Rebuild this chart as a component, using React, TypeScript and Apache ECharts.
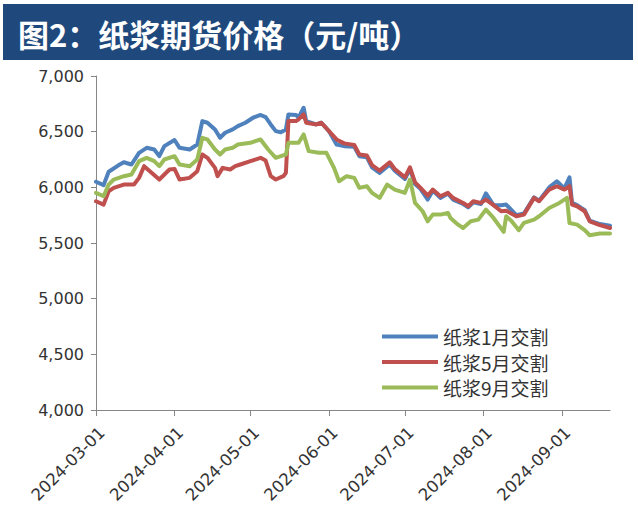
import React, { useEffect, useRef } from "react";
import * as echarts from "echarts";

const TITLE = "图2：纸浆期货价格（元/吨）";
const SERIES_NAMES = ["纸浆1月交割", "纸浆5月交割", "纸浆9月交割"];
const MONTH_TICKS = ["2024-03-01", "2024-04-01", "2024-05-01", "2024-06-01", "2024-07-01", "2024-08-01", "2024-09-01"];
const START_DATE = "2024-03-01";
const END_DATE = "2024-09-20";
const Y_TICKS = [4000, 4500, 5000, 5500, 6000, 6500, 7000];

const pulpJan: [string, number][] = [
  ["2024-03-01", 6050], ["2024-03-04", 6020], ["2024-03-06", 6140], ["2024-03-10", 6200], ["2024-03-12", 6225],
  ["2024-03-15", 6205], ["2024-03-18", 6310], ["2024-03-21", 6355], ["2024-03-24", 6340], ["2024-03-26", 6280],
  ["2024-03-28", 6370], ["2024-04-01", 6425], ["2024-04-03", 6355], ["2024-04-07", 6340], ["2024-04-10", 6385],
  ["2024-04-12", 6595], ["2024-04-14", 6580], ["2024-04-17", 6520], ["2024-04-19", 6445], ["2024-04-21", 6490],
  ["2024-04-24", 6520], ["2024-04-26", 6550], ["2024-04-29", 6580], ["2024-05-02", 6625], ["2024-05-05", 6650],
  ["2024-05-07", 6630], ["2024-05-09", 6565], ["2024-05-11", 6505], ["2024-05-13", 6495], ["2024-05-15", 6520],
  ["2024-05-16", 6655], ["2024-05-19", 6650], ["2024-05-20", 6625], ["2024-05-22", 6715], ["2024-05-23", 6595],
  ["2024-05-27", 6565], ["2024-05-29", 6580], ["2024-06-01", 6505], ["2024-06-04", 6385], ["2024-06-07", 6370],
  ["2024-06-11", 6365], ["2024-06-13", 6280], ["2024-06-16", 6270], ["2024-06-18", 6180], ["2024-06-21", 6130],
  ["2024-06-25", 6205], ["2024-06-27", 6150], ["2024-07-01", 6075], ["2024-07-03", 6165], ["2024-07-05", 6030],
  ["2024-07-07", 5990], ["2024-07-10", 5890], ["2024-07-12", 5970], ["2024-07-15", 5905], ["2024-07-18", 5945],
  ["2024-07-20", 5890], ["2024-07-24", 5850], ["2024-07-26", 5820], ["2024-07-28", 5865], ["2024-07-31", 5850],
  ["2024-08-02", 5945], ["2024-08-05", 5840], ["2024-08-08", 5840], ["2024-08-10", 5845], ["2024-08-14", 5750],
  ["2024-08-17", 5765], ["2024-08-21", 5910], ["2024-08-23", 5880], ["2024-08-27", 6000], ["2024-08-30", 6055],
  ["2024-09-02", 5990], ["2024-09-04", 6090], ["2024-09-05", 5860], ["2024-09-07", 5840], ["2024-09-10", 5795],
  ["2024-09-12", 5700], ["2024-09-16", 5670], ["2024-09-20", 5655],
];

const pulpMay: [string, number][] = [
  ["2024-03-01", 5875], ["2024-03-04", 5845], ["2024-03-06", 5965], ["2024-03-08", 5995], ["2024-03-12", 6025],
  ["2024-03-16", 6025], ["2024-03-18", 6085], ["2024-03-20", 6190], ["2024-03-26", 6070], ["2024-03-30", 6160],
  ["2024-04-01", 6165], ["2024-04-03", 6070], ["2024-04-07", 6085], ["2024-04-10", 6145], ["2024-04-12", 6295],
  ["2024-04-14", 6265], ["2024-04-17", 6175], ["2024-04-18", 6100], ["2024-04-20", 6175], ["2024-04-23", 6160],
  ["2024-04-25", 6190], ["2024-04-27", 6205], ["2024-05-01", 6235], ["2024-05-05", 6265], ["2024-05-07", 6240],
  ["2024-05-09", 6100], ["2024-05-11", 6070], ["2024-05-14", 6100], ["2024-05-15", 6130], ["2024-05-16", 6595],
  ["2024-05-19", 6595], ["2024-05-20", 6610], ["2024-05-22", 6655], ["2024-05-23", 6580], ["2024-05-27", 6565],
  ["2024-05-29", 6580], ["2024-06-01", 6505], ["2024-06-04", 6430], ["2024-06-07", 6395], ["2024-06-11", 6380],
  ["2024-06-13", 6295], ["2024-06-16", 6285], ["2024-06-18", 6200], ["2024-06-21", 6150], ["2024-06-25", 6225],
  ["2024-06-27", 6165], ["2024-07-01", 6090], ["2024-07-03", 6180], ["2024-07-05", 6045], ["2024-07-07", 6000],
  ["2024-07-10", 5925], ["2024-07-12", 5980], ["2024-07-15", 5920], ["2024-07-18", 5950], ["2024-07-20", 5905],
  ["2024-07-24", 5860], ["2024-07-26", 5830], ["2024-07-28", 5875], ["2024-07-31", 5860], ["2024-08-02", 5890],
  ["2024-08-05", 5840], ["2024-08-08", 5785], ["2024-08-10", 5790], ["2024-08-14", 5740], ["2024-08-17", 5755],
  ["2024-08-21", 5905], ["2024-08-23", 5875], ["2024-08-27", 5980], ["2024-08-30", 6010], ["2024-09-02", 5980],
  ["2024-09-04", 6010], ["2024-09-05", 5845], ["2024-09-07", 5830], ["2024-09-10", 5785], ["2024-09-12", 5695],
  ["2024-09-16", 5660], ["2024-09-20", 5635],
];

const pulpSep: [string, number][] = [
  ["2024-03-01", 5950], ["2024-03-04", 5920], ["2024-03-06", 6025], ["2024-03-08", 6070], ["2024-03-12", 6100],
  ["2024-03-15", 6115], ["2024-03-18", 6235], ["2024-03-21", 6265], ["2024-03-24", 6235], ["2024-03-26", 6190],
  ["2024-03-28", 6250], ["2024-04-01", 6280], ["2024-04-03", 6205], ["2024-04-07", 6190], ["2024-04-10", 6250],
  ["2024-04-12", 6445], ["2024-04-14", 6430], ["2024-04-17", 6340], ["2024-04-19", 6295], ["2024-04-21", 6340],
  ["2024-04-24", 6355], ["2024-04-26", 6385], ["2024-05-01", 6400], ["2024-05-05", 6430], ["2024-05-08", 6340],
  ["2024-05-11", 6265], ["2024-05-13", 6280], ["2024-05-15", 6295], ["2024-05-16", 6400], ["2024-05-20", 6400],
  ["2024-05-22", 6475], ["2024-05-24", 6325], ["2024-05-28", 6310], ["2024-05-31", 6310], ["2024-06-03", 6175],
  ["2024-06-05", 6055], ["2024-06-08", 6100], ["2024-06-11", 6085], ["2024-06-13", 5995], ["2024-06-16", 6010],
  ["2024-06-18", 5950], ["2024-06-21", 5905], ["2024-06-24", 6025], ["2024-06-27", 5980], ["2024-07-01", 5950],
  ["2024-07-03", 6070], ["2024-07-05", 5860], ["2024-07-08", 5785], ["2024-07-10", 5695], ["2024-07-12", 5755],
  ["2024-07-15", 5755], ["2024-07-18", 5770], ["2024-07-19", 5725], ["2024-07-22", 5665], ["2024-07-24", 5635],
  ["2024-07-27", 5695], ["2024-07-30", 5710], ["2024-08-02", 5800], ["2024-08-05", 5725], ["2024-08-09", 5600],
  ["2024-08-10", 5740], ["2024-08-12", 5700], ["2024-08-15", 5615], ["2024-08-17", 5680], ["2024-08-21", 5710],
  ["2024-08-23", 5740], ["2024-08-27", 5815], ["2024-08-31", 5860], ["2024-09-03", 5905], ["2024-09-04", 5680],
  ["2024-09-07", 5665], ["2024-09-10", 5615], ["2024-09-12", 5570], ["2024-09-16", 5585], ["2024-09-20", 5585],
];

const COLORS = ["#4F81BD", "#C0504D", "#9BBB59"];

function buildDates(start: string, end: string): string[] {
  const out: string[] = [];
  const d = new Date(start + "T00:00:00Z");
  const e = new Date(end + "T00:00:00Z");
  while (d.getTime() <= e.getTime()) {
    out.push(d.toISOString().slice(0, 10));
    d.setUTCDate(d.getUTCDate() + 1);
  }
  return out;
}

export default function App() {
  const ref = useRef<HTMLDivElement>(null);
  useEffect(() => {
    document.body.style.margin = "0";
    if (!ref.current) return;
    const chart = echarts.init(ref.current, null, { renderer: "svg" });
    const dates = buildDates(START_DATE, END_DATE);
    const toData = (arr: [string, number][]) => arr.map(([d, v]) => [dates.indexOf(d), v]);
    const isTick = (_i: number, v: string) => MONTH_TICKS.indexOf(v) >= 0;
    const allSeries = [pulpJan, pulpMay, pulpSep];
    chart.setOption({
      animation: false,
      backgroundColor: "#ffffff",
      graphic: [
        { type: "rect", shape: { x: 3, y: 4, width: 630, height: 56 }, style: { fill: "#1F497D" }, z: 0 },
        {
          type: "text",
          x: 18,
          y: 33,
          style: {
            text: TITLE,
            fill: "#ffffff",
            font: 'bold 31px "Noto Sans CJK SC"',
            verticalAlign: "middle",
            align: "left",
          },
          z: 1,
        },
      ],
      grid: { left: 96, right: 28, top: 76, bottom: 107, containLabel: false },
      legend: {
        orient: "vertical",
        left: 382,
        top: 327,
        padding: 0,
        icon: "rect",
        itemWidth: 56,
        itemHeight: 4,
        itemGap: 6.5,
        data: SERIES_NAMES,
        textStyle: { fontFamily: '"Noto Sans CJK SC"', fontSize: 19, lineHeight: 19, color: "#333333" },
      },
      xAxis: {
        type: "category",
        data: dates,
        boundaryGap: false,
        axisLine: { lineStyle: { color: "#868686", width: 1 } },
        axisTick: { interval: isTick, length: 6, lineStyle: { color: "#868686" } },
        axisLabel: {
          interval: isTick,
          rotate: 45,
          margin: 14,
          verticalAlign: "top",
          fontFamily: '"DejaVu Sans"',
          fontSize: 16.5,
          color: "#333333",
        },
        splitLine: { show: false },
      },
      yAxis: {
        type: "value",
        min: Y_TICKS[0],
        max: Y_TICKS[Y_TICKS.length - 1],
        interval: 500,
        axisLine: { show: true, lineStyle: { color: "#868686", width: 1 } },
        axisTick: { show: true, length: 5, lineStyle: { color: "#868686" } },
        axisLabel: {
          margin: 12,
          fontFamily: '"DejaVu Sans"',
          fontSize: 16,
          color: "#333333",
          formatter: (v: number) => v.toLocaleString("en-US"),
        },
        splitLine: { show: false },
      },
      series: allSeries.map((arr, i) => ({
        name: SERIES_NAMES[i],
        type: "line",
        data: toData(arr),
        symbol: "none",
        color: COLORS[i],
        lineStyle: { width: 4, color: COLORS[i], join: "round", cap: "round" },
      })),
    });
    return () => chart.dispose();
  }, []);
  return <div ref={ref} style={{ width: 638, height: 517 }} />;
}
